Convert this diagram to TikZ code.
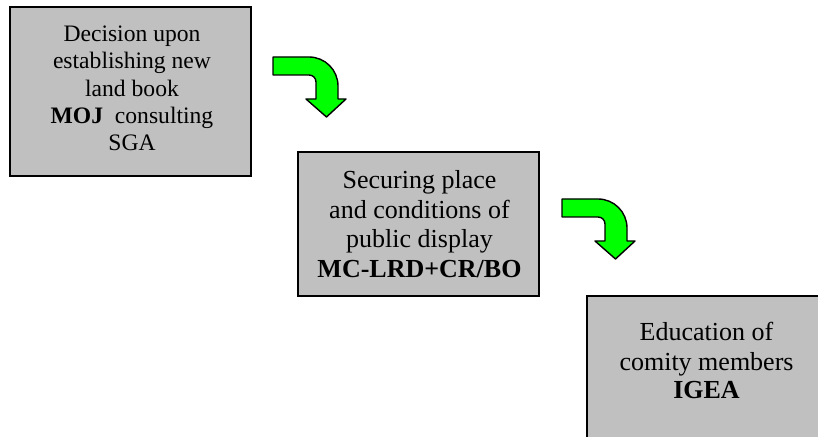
\documentclass[tikz,border=0pt]{standalone}
\usepackage{fontspec}
\setmainfont{Liberation Serif}
\definecolor{boxgrey}{HTML}{C0C0C0}
\definecolor{arrowgreen}{HTML}{00FF00}
\begin{document}
\begin{tikzpicture}[x=1pt,y=1pt,
  stepbox/.style={draw=black, line width=2pt, fill=boxgrey, minimum width=241pt,
    inner sep=0pt, outer sep=0pt, anchor=north west},
  steptext/.style={align=center, anchor=north, inner sep=0pt},
  bendarrow/.pic={
    \draw[line width=1.4pt, fill=arrowgreen, line join=round]
      (0,0) -- (36,0) arc[start angle=90, end angle=0, radius=29pt]
      -- (65,-42) -- (73,-42) -- (53.5,-60) -- (33,-42) -- (43,-42)
      -- (43,-25) arc[start angle=0, end angle=90, radius=7pt]
      -- (0,-18) -- cycle;
  }]
\useasboundingbox (0,0) rectangle (818,436);
\clip (0,0) rectangle (818,436);

% the three steps
\node[stepbox, minimum height=169pt] (b1) at (10,429) {};
\node[stepbox, minimum height=144pt] (b2) at (298,284) {};
\node[stepbox, minimum height=144pt] (b3) at (587,140) {};

\node[steptext, font=\fontsize{23.6}{27.3}\selectfont] (t1)
  at ([xshift=1.5pt, yshift=-18.6pt]b1.north)
  {Decision upon\\establishing new\\land book\\\textbf{MOJ}~ consulting\\SGA};
\node[steptext, font=\fontsize{26}{29.7}\selectfont] (t2)
  at ([xshift=1pt, yshift=-18.2pt]b2.north)
  {Securing place\\and conditions of\\public display\\\textbf{MC-LRD+CR/BO}};
\node[steptext, font=\fontsize{26}{30}\selectfont] (t3)
  at ([xshift=-1pt, yshift=-26pt]b3.north)
  {Education of\\comity members\\[-2.5pt]\textbf{IGEA}};

% bent arrows leading from one step to the next
\pic at (273,379) {bendarrow};
\pic at (562,237) {bendarrow};
\end{tikzpicture}
\end{document}
